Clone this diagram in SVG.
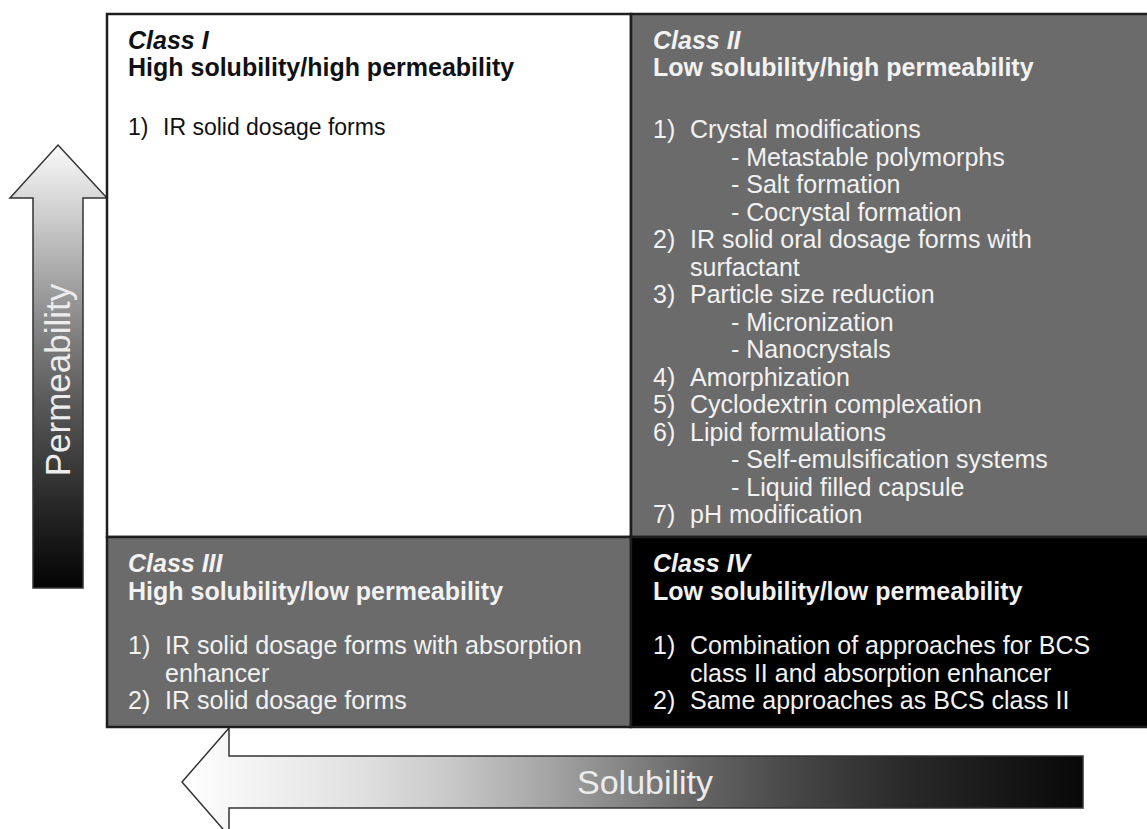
<svg xmlns="http://www.w3.org/2000/svg" width="1147" height="829" viewBox="0 0 1147 829">
<defs>
<linearGradient id="gPerm" x1="0" y1="145" x2="0" y2="588" gradientUnits="userSpaceOnUse">
<stop offset="0" stop-color="#fafafa"/>
<stop offset="0.25" stop-color="#b4b4b4"/>
<stop offset="0.45" stop-color="#7a7a7a"/>
<stop offset="0.6" stop-color="#555"/>
<stop offset="0.8" stop-color="#2a2a2a"/>
<stop offset="1" stop-color="#030303"/>
</linearGradient>
<linearGradient id="gSol" x1="182" y1="0" x2="1083" y2="0" gradientUnits="userSpaceOnUse">
<stop offset="0" stop-color="#ffffff"/>
<stop offset="0.2" stop-color="#e0e0e0"/>
<stop offset="0.3" stop-color="#c8c8c8"/>
<stop offset="0.42" stop-color="#a0a0a0"/>
<stop offset="0.57" stop-color="#666"/>
<stop offset="0.69" stop-color="#444"/>
<stop offset="0.8" stop-color="#2a2a2a"/>
<stop offset="1" stop-color="#080808"/>
</linearGradient>
</defs>
<style>
text{font-family:"Liberation Sans",Arial,Helvetica,sans-serif;font-size:25px}
.cls{font-weight:bold;font-style:italic}
.hd{font-weight:bold}
.dk{fill:#111}
.lt{fill:#f2f2f2}
.box{stroke:#1e1e1e;stroke-width:2.5}
.arrow{stroke:#333;stroke-width:1.5;stroke-linejoin:miter}
.ax{font-size:35px;fill:#ececec}
</style>
<rect width="1147" height="829" fill="#fff"/>
<g id="axes">
<g id="permeability-arrow">
<path class="arrow" d="M58,145 L107,198 L83,198 L83,588 L33,588 L33,198 L10,198 Z" fill="url(#gPerm)"/>
<text class="ax" transform="translate(70,380) rotate(-90)" text-anchor="middle">Permeability</text>
</g>
<g id="solubility-arrow">
<path class="arrow" d="M182,782 L229,728 L229,756 L1083,756 L1083,808 L229,808 L229,836 Z" fill="url(#gSol)"/>
<text class="ax" x="577" y="794" style="font-size:34px">Solubility</text>
</g>
</g>
<g id="class1">
<rect class="box" x="107" y="14" width="524" height="523" fill="#fff"/>
<text class="cls dk" x="128" y="49">Class I</text>
<text class="hd dk" x="128" y="76">High solubility/high permeability</text>
<text class="dk" x="128" y="135" style="font-size:23px">1)</text>
<text class="dk" x="163" y="135" style="font-size:23px">IR solid dosage forms</text>
</g>
<g id="class2">
<rect class="box" x="631" y="14" width="520" height="523" fill="#6b6b6b"/>
<text class="cls lt" x="653" y="49">Class II</text>
<text class="hd lt" x="653" y="76">Low solubility/high permeability</text>
<g class="lt">
<text class="lt" x="653" y="138">1)</text><text class="lt" x="690" y="138">Crystal modifications</text>
<text class="lt" x="731" y="165.5">- Metastable polymorphs</text>
<text class="lt" x="731" y="193">- Salt formation</text>
<text class="lt" x="731" y="220.5">- Cocrystal formation</text>
<text class="lt" x="653" y="248">2)</text><text class="lt" x="690" y="248">IR solid oral dosage forms with</text>
<text class="lt" x="690" y="275.5">surfactant</text>
<text class="lt" x="653" y="303">3)</text><text class="lt" x="690" y="303">Particle size reduction</text>
<text class="lt" x="731" y="330.5">- Micronization</text>
<text class="lt" x="731" y="358">- Nanocrystals</text>
<text class="lt" x="653" y="385.5">4)</text><text class="lt" x="690" y="385.5">Amorphization</text>
<text class="lt" x="653" y="413">5)</text><text class="lt" x="690" y="413">Cyclodextrin complexation</text>
<text class="lt" x="653" y="440.5">6)</text><text class="lt" x="690" y="440.5">Lipid formulations</text>
<text class="lt" x="731" y="468">- Self-emulsification systems</text>
<text class="lt" x="731" y="495.5">- Liquid filled capsule</text>
<text class="lt" x="653" y="523">7)</text><text class="lt" x="690" y="523">pH modification</text>
</g>
</g>
<g id="class3">
<rect class="box" x="107" y="537" width="524" height="190" fill="#6b6b6b"/>
<text class="cls lt" x="128" y="572">Class III</text>
<text class="hd lt" x="128" y="600">High solubility/low permeability</text>
<text class="lt" x="128" y="654">1)</text><text class="lt" x="165" y="654">IR solid dosage forms with absorption</text>
<text class="lt" x="165" y="681.5">enhancer</text>
<text class="lt" x="128" y="709">2)</text><text class="lt" x="165" y="709">IR solid dosage forms</text>
</g>
<g id="class4">
<rect class="box" x="631" y="537" width="520" height="190" fill="#000"/>
<text class="cls lt" x="653" y="572">Class IV</text>
<text class="hd lt" x="653" y="600">Low solubility/low permeability</text>
<text class="lt" x="653" y="654">1)</text><text class="lt" x="690" y="654">Combination of approaches for BCS</text>
<text class="lt" x="690" y="681.5">class II and absorption enhancer</text>
<text class="lt" x="653" y="709">2)</text><text class="lt" x="690" y="709">Same approaches as BCS class II</text>
</g>
</svg>
